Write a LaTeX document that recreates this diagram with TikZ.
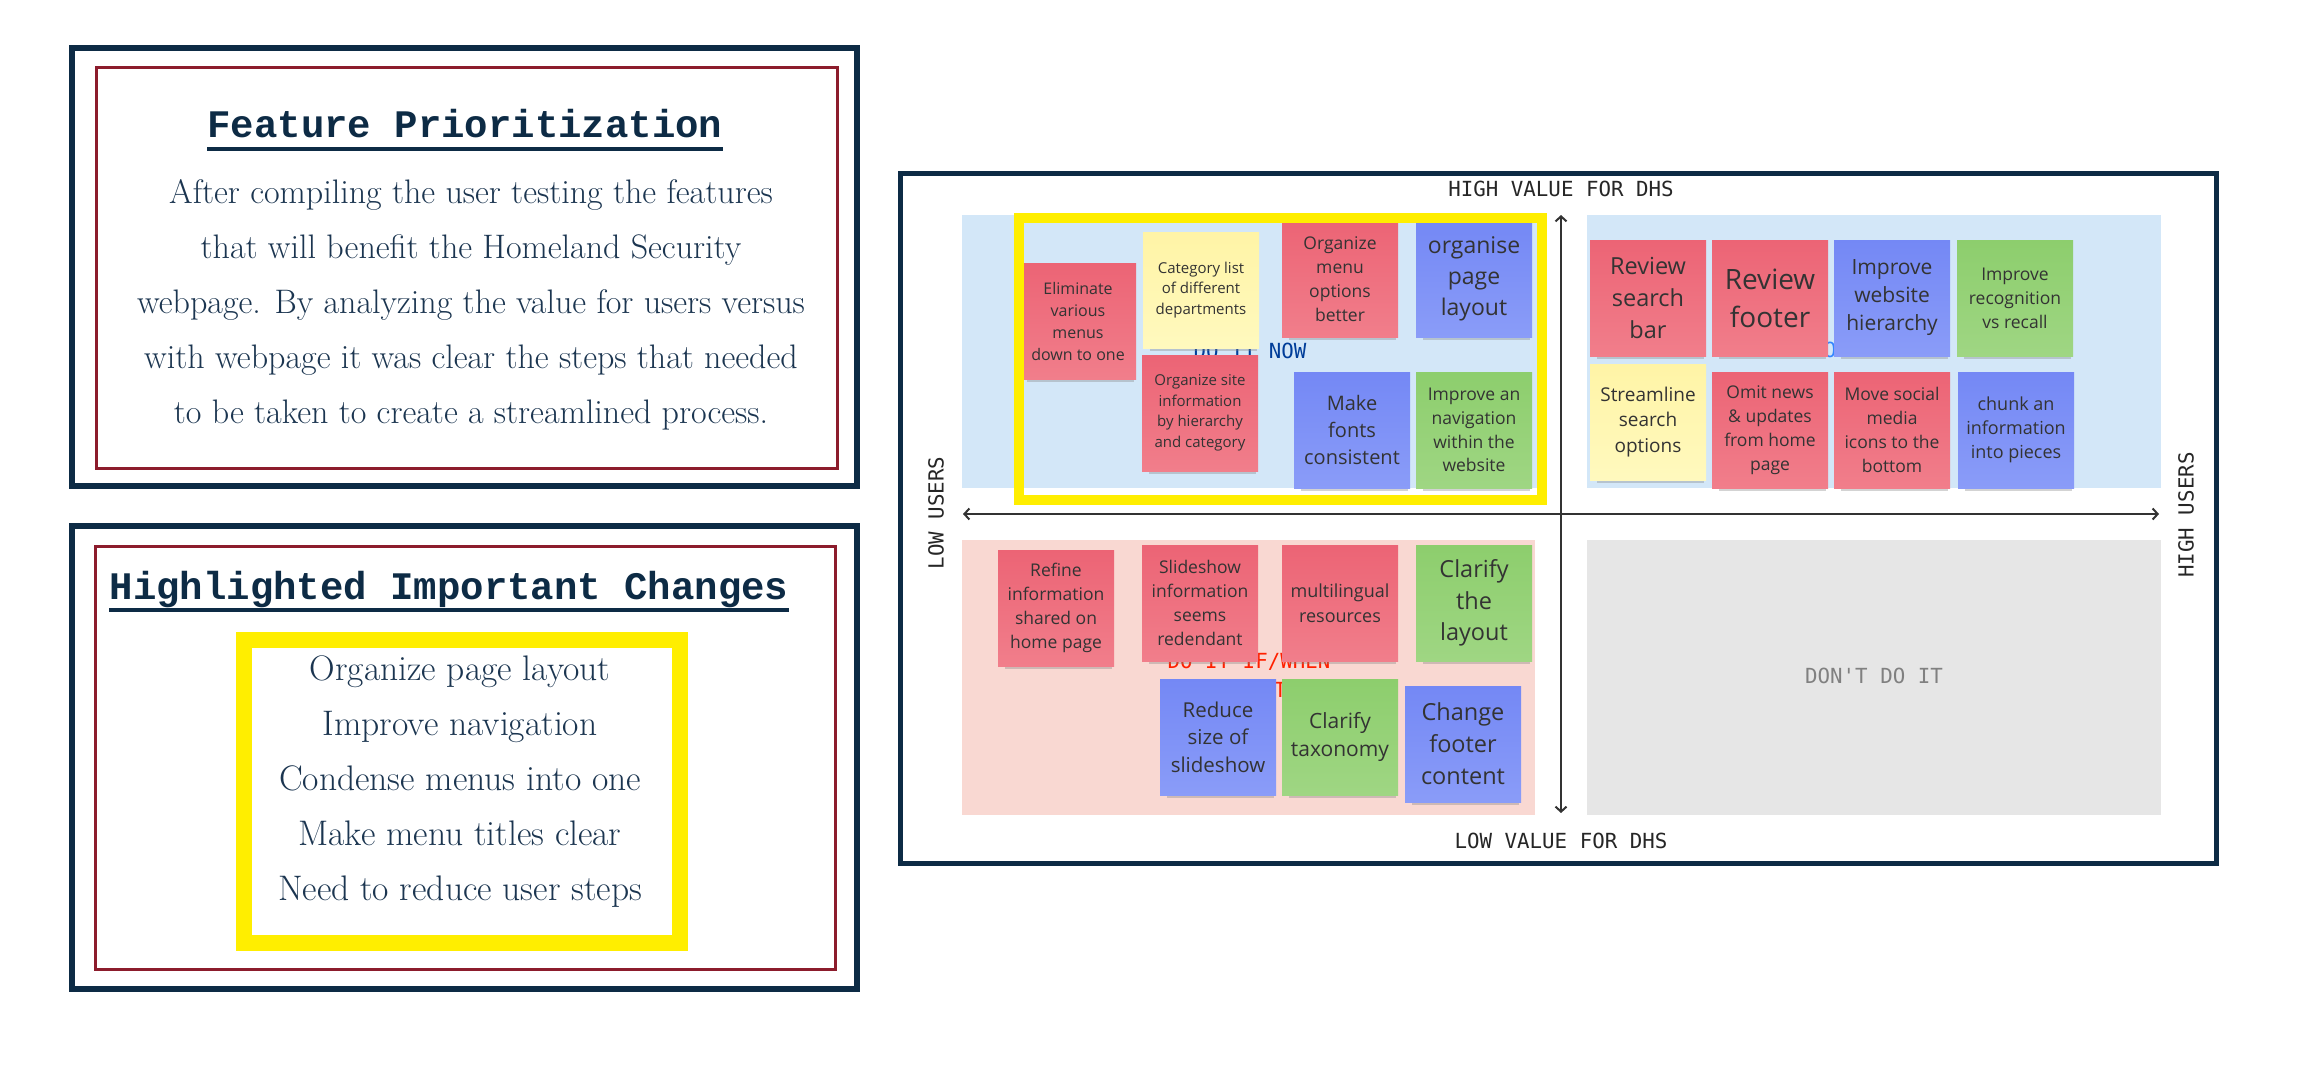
\documentclass[tikz,border=0pt]{standalone}
\usepackage{fontspec}
\usepackage{xcolor}
\usepackage{tikz}
\usetikzlibrary{arrows.meta,shadows}

\newfontfamily\titlefont{Liberation Mono}
\newfontfamily\axisfont{DejaVu Sans Mono}
\newfontfamily\notefont{Open Sans}

\definecolor{frameblue}{HTML}{0D2B45}
\definecolor{framered}{HTML}{8C1C2C}
\definecolor{bodyblue}{HTML}{1B3550}
\definecolor{hilite}{HTML}{FFEE00}
\definecolor{quadblue}{HTML}{D3E7F8}
\definecolor{quadpink}{HTML}{F9D8D2}
\definecolor{quadgray}{HTML}{E6E6E6}
\definecolor{redtop}{HTML}{EC6475}
\definecolor{redbot}{HTML}{F17E8B}
\definecolor{bluetop}{HTML}{7488F5}
\definecolor{bluebot}{HTML}{8A9CF8}
\definecolor{greentop}{HTML}{8DCE6D}
\definecolor{greenbot}{HTML}{9FD683}
\definecolor{yellowtop}{HTML}{FFF4A6}
\definecolor{yellowbot}{HTML}{FFF9BE}
\definecolor{notetext}{HTML}{333333}

\begin{document}
\begin{tikzpicture}[x=1pt,y=-1pt,
  bodytext/.style={text=bodyblue, font=\fontsize{34}{40}\selectfont, anchor=base},
  listtext/.style={text=bodyblue, font=\fontsize{35.5}{40}\selectfont, anchor=base},
  headtext/.style={text=frameblue, font=\titlefont\bfseries\fontsize{39}{44}\selectfont, anchor=base},
  axistext/.style={text=black!85, font=\axisfont\fontsize{20.8}{26}\selectfont},
  note/.style={minimum width=116, minimum height=116, align=center, text=notetext,
    drop shadow={opacity=0.35, shadow xshift=3pt, shadow yshift=-8pt, shadow scale=0.92}},
  rednote/.style={note, top color=redtop, bottom color=redbot},
  bluenote/.style={note, top color=bluetop, bottom color=bluebot},
  greennote/.style={note, top color=greentop, bottom color=greenbot},
  yellownote/.style={note, top color=yellowtop, bottom color=yellowbot},
  ns/.style 2 args={font=\notefont\fontsize{#1}{#2}\selectfont},
  axis/.style={black!80, line width=2, {Straight Barb[length=5pt,width=11pt]}-{Straight Barb[length=5pt,width=11pt]}}]
\tikzstyle{every node}+=[inner sep=0pt]
\useasboundingbox (0,0) rectangle (2310,1077);

% feature prioritization box
\draw [frameblue, line width=6] (72,48) rectangle (857,486);
\draw [framered, line width=3] (96,67) rectangle (837,468);
\node [headtext] (fptitle) at (465,137) {Feature Prioritization};
\draw [frameblue, line width=4] ([yshift=-12pt]fptitle.base west) -- ([yshift=-12pt]fptitle.base east);
\node [bodytext] (fpline1) at (471,203) {After compiling the user testing the features};
\node [bodytext] (fpline2) at (471,258) {that will benefit the Homeland Security};
\node [bodytext] (fpline3) at (471,313) {webpage. By analyzing the value for users versus};
\node [bodytext] (fpline4) at (471,368) {with webpage it was clear the steps that needed};
\node [bodytext] (fpline5) at (471,423) {to be taken to create a streamlined process.};

% highlighted changes box
\draw [frameblue, line width=6] (72,526) rectangle (857,989);
\draw [framered, line width=3] (95,546) rectangle (835,969);
\node [headtext] (hctitle) at (449,599) {Highlighted Important Changes};
\draw [frameblue, line width=4] ([yshift=-11pt]hctitle.base west) -- ([yshift=-11pt]hctitle.base east);
\draw [hilite, line width=16] (244,640) rectangle (680,943);
\node [listtext] (hcline1) at (460,680) {Organize page layout};
\node [listtext] (hcline2) at (460,735) {Improve navigation};
\node [listtext] (hcline3) at (460,790) {Condense menus into one};
\node [listtext] (hcline4) at (460,845) {Make menu titles clear};
\node [listtext] (hcline5) at (460,900) {Need to reduce user steps};

% quadrants
\fill [quadblue] (962,215) rectangle (1537,488);
\fill [quadblue] (1587,215) rectangle (2161,488);
\fill [quadpink] (962,540) rectangle (1535,815);
\fill [quadgray] (1587,540) rectangle (2161,815);
\node [axistext, text=blue!60!cyan!60!black, anchor=base] (nowlabel) at (1250,358) {DO IT NOW};
\node [axistext, text=blue!60!cyan!80, anchor=base] (nextlabel) at (1874,357) {DO IT NEXT};
\node [axistext, text=red!75!orange, anchor=base] (whenlabel) at (1249,668) {DO IT IF/WHEN};
\node [axistext, text=red!75!orange, anchor=base] (timelabel) at (1249,697) {THERE'S TIME};
\node [axistext, text=black!50, anchor=base] (dontlabel) at (1874,683) {DON'T DO IT};

% sticky notes
\node [rednote, ns={16}{22}] (elim) at (1078,321) {Eliminate\\various\\menus\\down to one};
\node [yellownote, ns={15}{20.5}] (catlist) at (1201,290) {Category list\\of different\\departments};
\node [rednote, ns={17.5}{24}] (menuopt) at (1340,279) {Organize\\menu\\options\\better};
\node [bluenote, ns={23}{31}] (pagelay) at (1474,279) {organise\\page\\layout};
\node [rednote, ns={15}{20.5}] (siteinfo) at (1200,413) {Organize site\\information\\by hierarchy\\and category};
\node [bluenote, ns={20}{27}] (fonts) at (1352,430) {Make\\fonts\\consistent};
\node [greennote, ns={17.5}{23.7}] (navig) at (1474,430) {Improve an\\navigation\\within the\\website};
\node [rednote, ns={23.5}{31.7}] (search) at (1648,298) {Review\\search\\bar};
\node [rednote, ns={28}{38}] (footer) at (1770,298) {Review\\footer};
\node [bluenote, ns={21}{28}] (hier) at (1892,298) {Improve\\website\\hierarchy};
\node [greennote, ns={17.5}{24}] (recog) at (2015,298) {Improve\\recognition\\vs recall};
\node [yellownote, ns={19}{25.5}] (stream) at (1648,422) {Streamline\\search\\options};
\node [rednote, ns={17.5}{24}] (omit) at (1770,430) {Omit news\\\& updates\\from home\\page};
\node [rednote, ns={17.5}{24}] (social) at (1892,430) {Move social\\media\\icons to the\\bottom};
\node [bluenote, ns={18}{24}] (chunk) at (2016,430) {chunk an\\information\\into pieces};
\node [rednote, ns={17.5}{24}] (refine) at (1056,608) {Refine\\information\\shared on\\home page};
\node [rednote, ns={17.5}{24}] (slides) at (1200,603) {Slideshow\\information\\seems\\redendant};
\node [rednote, ns={18}{25}] (multi) at (1340,603) {multilingual\\resources};
\node [greennote, ns={23.5}{31.7}] (clarlay) at (1474,603) {Clarify\\the\\layout};
\node [bluenote, ns={20.5}{27.5}] (reduce) at (1218,737) {Reduce\\size of\\slideshow};
\node [greennote, ns={21}{28}] (taxon) at (1340,737) {Clarify\\taxonomy};
\node [bluenote, ns={23.5}{32}] (chfooter) at (1463,744) {Change\\footer\\content};

% highlight over do it now
\draw [hilite, line width=10] (1019,218) rectangle (1542,500);

% axes
\coordinate (ytop) at (1561,215);
\coordinate (ybot) at (1561,813);
\coordinate (xleft) at (963,514);
\coordinate (xright) at (2159,514);
\draw [axis] (ytop) -- (ybot);
\draw [axis] (xleft) -- (xright);
\node [axistext, anchor=base] (highval) at (1561,196) {HIGH VALUE FOR DHS};
\node [axistext, anchor=base] (lowval) at (1561,848) {LOW VALUE FOR DHS};
\node [axistext, rotate=90] (lowusers) at (936,513) {LOW USERS};
\node [axistext, rotate=90] (highusers) at (2186,515) {HIGH USERS};

% matrix frame
\draw [frameblue, line width=5] (900,173) rectangle (2216,863);
\end{tikzpicture}
\end{document}
